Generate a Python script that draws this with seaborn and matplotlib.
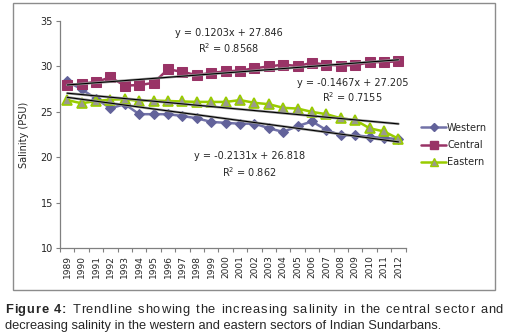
import matplotlib
matplotlib.use("Agg")
import matplotlib.pyplot as plt
import matplotlib.patches as mpatches
from matplotlib.lines import Line2D
import numpy as np
import pandas as pd
import seaborn as sns

# ── data ─────────────────────────────────────────────────────────────────────
years = list(range(1989, 2013))
western = [28.35, 27.5, 26.45, 25.4, 25.85, 24.75, 24.75, 24.75, 24.55, 24.3,
           23.9, 23.8, 23.7, 23.72, 23.2, 22.8, 23.45, 23.95, 23.0, 22.45,
           22.43, 22.25, 22.15, 22.0]
central = [27.95, 28.1, 28.3, 28.8, 27.9, 27.95, 28.2, 29.7, 29.4, 29.05,
           29.3, 29.45, 29.55, 29.8, 30.0, 30.2, 30.05, 30.4, 30.2, 30.1,
           30.15, 30.45, 30.5, 30.55]
eastern = [26.3, 25.95, 26.2, 26.35, 26.4, 26.2, 26.25, 26.2, 26.15, 26.1,
           26.1, 26.1, 26.3, 26.0, 25.85, 25.45, 25.37, 25.0, 24.75, 24.3,
           24.1, 23.2, 22.85, 22.05]
# trendline coefficients as printed on the chart (x = 1..24)
trend_slope = {"Western": -0.2131, "Central": 0.1203, "Eastern": -0.1467}
trend_icpt = {"Western": 26.818, "Central": 27.846, "Eastern": 27.205}
trend_r2 = {"Western": "0.862", "Central": "0.8568", "Eastern": "0.7155"}

CAPTION_BOLD = "Figure 4:"
CAPTION_1 = " Trendline showing the increasing salinity in the central sector and"
CAPTION_2 = "decreasing salinity in the western and eastern sectors of Indian Sundarbans."

WEST_C = "#7272A8"; WEST_M = "#62629A"
CENT_C = "#993366"
EAST_C = "#99CC00"; EAST_M = "#9A9A8C"

sns.set_style("white")
plt.rcParams["font.family"] = ["DejaVu Sans"]

idx = np.arange(1, len(years) + 1)
df = pd.DataFrame({"idx": idx, "Western": western, "Central": central, "Eastern": eastern})

W, H = 507, 335
fig = plt.figure(figsize=(W / 100, H / 100), dpi=100)
# grey chart-area frame like the Excel export
fig.patches.append(mpatches.Rectangle((13 / W, 1 - 290 / H), 482 / W, 287 / H,
                                      transform=fig.transFigure, fill=False,
                                      edgecolor="#8c8c8c", linewidth=1.0))
ax = fig.add_axes([60 / W, 1 - 248.3 / H, 345.7 / W, 227.3 / H])

sns.lineplot(data=df, x="idx", y="Western", ax=ax, color=WEST_C, linewidth=1.8,
             marker="D", markersize=5.5, markerfacecolor=WEST_M, markeredgecolor=WEST_M)
sns.lineplot(data=df, x="idx", y="Central", ax=ax, color=CENT_C, linewidth=1.8,
             marker="s", markersize=6.5, markerfacecolor=CENT_C, markeredgecolor=CENT_C)
sns.lineplot(data=df, x="idx", y="Eastern", ax=ax, color=EAST_C, linewidth=1.8,
             marker="^", markersize=7, markerfacecolor=EAST_M, markeredgecolor=EAST_C,
             markeredgewidth=1.2)

# linear trendlines from the printed equations
for name in ["Western", "Central", "Eastern"]:
    ty = trend_slope[name] * idx + trend_icpt[name]
    ax.plot(idx, ty, color="#9a9a9a", linewidth=1.8, zorder=5)
    ax.plot(idx, ty, color="black", linewidth=0.8, zorder=6)

eq_fs = 7
ax.text(12.2, 33.7, "y = 0.1203x + 27.846", ha="center", va="center", fontsize=eq_fs)
ax.text(12.2, 32.0, "R$^2$ = " + trend_r2["Central"], ha="center", va="center", fontsize=eq_fs)
ax.text(20.8, 28.15, "y = -0.1467x + 27.205", ha="center", va="center", fontsize=eq_fs)
ax.text(20.8, 26.6, "R$^2$ = " + trend_r2["Eastern"], ha="center", va="center", fontsize=eq_fs)
ax.text(13.65, 20.1, "y = -0.2131x + 26.818", ha="center", va="center", fontsize=eq_fs)
ax.text(13.65, 18.35, "R$^2$ = " + trend_r2["Western"], ha="center", va="center", fontsize=eq_fs)

ax.set_xlim(0.5, len(years) + 0.5)
ax.set_ylim(10, 35)
ax.set_yticks([10, 15, 20, 25, 30, 35])
ax.set_xticks(np.arange(0.5, len(years) + 1, 1))
ax.set_xticklabels([])
ax.set_xticks(idx, minor=True)
ax.set_xticklabels([str(y) for y in years], minor=True, rotation=90, fontsize=6.5)
ax.tick_params(axis="x", which="major", direction="out", length=3, color="#808080", bottom=True)
ax.tick_params(axis="x", which="minor", length=0, pad=5)
ax.tick_params(axis="y", direction="out", length=3, color="#808080", left=True, labelsize=7, pad=2)
for s in ["top", "right"]:
    ax.spines[s].set_visible(False)
for s in ["left", "bottom"]:
    ax.spines[s].set_color("#808080")
    ax.spines[s].set_linewidth(0.9)
ax.set_xlabel("")
ax.set_ylabel("Salinity (PSU)", fontsize=7, labelpad=8)
ax.grid(False)

handles = [
    Line2D([], [], color=WEST_C, lw=1.8, marker="D", ms=4.5, mfc=WEST_M, mec=WEST_M),
    Line2D([], [], color=CENT_C, lw=1.8, marker="s", ms=5.5, mfc=CENT_C, mec=CENT_C),
    Line2D([], [], color=EAST_C, lw=1.8, marker="^", ms=6, mfc=EAST_M, mec=EAST_C),
]
fig.legend(handles, ["Western", "Central", "Eastern"], loc="upper left",
           bbox_to_anchor=(416 / W, 1 - 118 / H), frameon=False, fontsize=7,
           handlelength=2.6, handletextpad=0.1, labelspacing=0.75, borderpad=0)

# ── caption: first line justified between x=5 and x=503 ─────────────────────
# (slight letter spacing inside words, the rest goes into the word gaps)
cap_fs = 9.3
cap_font = "Liberation Sans"
renderer = fig.canvas.get_renderer()
probe = fig.text(0, 0, "", fontsize=cap_fs, family=cap_font)


def text_w(s, weight):
    # width of s, trailing spaces included (measure with a bar appended)
    if not s:
        return 0.0
    probe.set_fontweight(weight)
    probe.set_text(s + "|")
    full = probe.get_window_extent(renderer).width
    probe.set_text("|")
    return full - probe.get_window_extent(renderer).width


chars = [(c, "bold") for c in CAPTION_BOLD] + [(c, "normal") for c in CAPTION_1]
nb = len(CAPTION_BOLD)
bold_w = text_w(CAPTION_BOLD, "bold")
starts = [text_w(CAPTION_BOLD[:i], "bold") if i < nb else bold_w + text_w(CAPTION_1[:i - nb], "normal")
          for i in range(len(chars))]
natural = bold_w + text_w(CAPTION_1, "normal")
probe.remove()

letter_gap = 0.8
text_chars = [c for c, _ in chars]
n_letter = sum(1 for a, b in zip(text_chars[:-1], text_chars[1:]) if a != " " and b != " ")
n_space = text_chars.count(" ")
space_gap = (503 - 5 - natural - n_letter * letter_gap) / n_space
shift = 0.0
for i, ((c, wt), s) in enumerate(zip(chars, starts)):
    if i > 0:
        prev = text_chars[i - 1]
        shift += space_gap if c == " " else (letter_gap if prev != " " else 0.0)
    if c == " ":
        continue
    fig.text((5 + s + shift) / W, 1 - 313 / H, c, fontsize=cap_fs, fontweight=wt,
             family=cap_font, va="baseline")
fig.text(5 / W, 1 - 329 / H, CAPTION_2, fontsize=cap_fs, family=cap_font, va="baseline")

fig.savefig("out.png", dpi=100)
